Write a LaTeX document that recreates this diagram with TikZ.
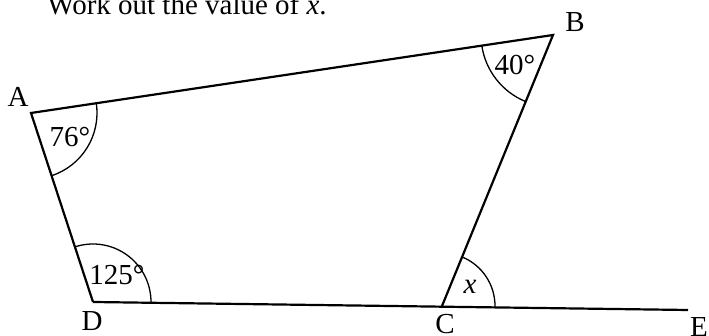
\documentclass[tikz,border=0pt]{standalone}
\usepackage{fontspec}
\setmainfont{Liberation Serif}
\usetikzlibrary{angles}
\begin{document}
\begin{tikzpicture}[x=1pt, y=1pt, font=\fontsize{29}{32}\selectfont]
    \useasboundingbox (0,0) rectangle (709,336);
    % Đỉnh của tứ giác
    \coordinate (A) at (31,223);
    \coordinate (B) at (553,301);
    \coordinate (C) at (442,30);
    \coordinate (D) at (93,34);
    \coordinate (E) at (688,26);
    % Đề bài
    \node[anchor=base west, inner sep=0] (task) at (47,321) {Work out the value of \textit{x}.};
    % Các cạnh
    \draw[line width=2.2pt, line join=miter] (D) -- (A) -- (B) -- (C);
    \draw[line width=2.2pt] (D) -- (E);
    % Các góc
    \draw[line width=1.3pt] pic[draw, angle radius=66pt] {angle = D--A--B};
    \draw[line width=1.3pt] pic[draw, angle radius=72pt] {angle = A--B--C};
    \draw[line width=1.3pt] pic[draw, angle radius=58pt] {angle = E--D--A};
    \draw[line width=1.3pt] pic[draw, angle radius=53pt] {angle = E--C--B};
    % Nhãn đỉnh
    \node (lA) at (18,239) {A};
    \node (lB) at (575,314) {B};
    \node (lC) at (445,12) {C};
    \node (lD) at (92,15) {D};
    \node (lE) at (699,9) {E};
    % Số đo góc
    \node (a76) at (70,199) {76°};
    \node (a40) at (515,271) {40°};
    \node (a125) at (117,61) {125°};
    \node (ax) at (470,49) {\textit{x}};
\end{tikzpicture}
\end{document}
